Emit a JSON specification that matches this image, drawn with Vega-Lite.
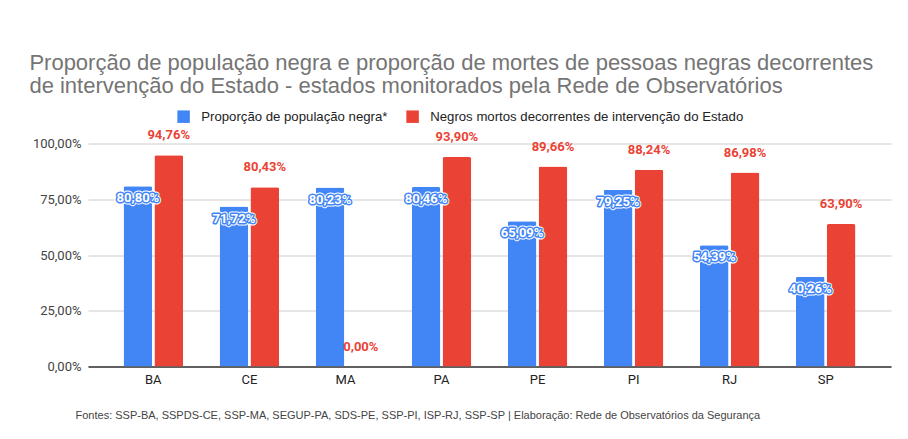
{
  "$schema": "https://vega.github.io/schema/vega-lite/v6.json",
  "autosize": {"type": "none"},
  "width": 803,
  "height": 223,
  "padding": {"left": 88, "top": 143.5, "right": 17, "bottom": 72.5},
  "title": {
    "text": ["Proporção de população negra e proporção de mortes de pessoas negras decorrentes", "de intervenção do Estado - estados monitorados pela Rede de Observatórios"],
    "anchor": "start",
    "dx": -3,
    "font": "Liberation Sans",
    "fontSize": 22,
    "fontWeight": "normal",
    "color": "#757575",
    "lineHeight": 23,
    "baseline": "top",
    "offset": 0,
    "dy": -12
  },
  "data": {
    "values": [
      {"estado": "BA", "serie": "Proporção de população negra*", "valor": 0.8080},
      {"estado": "BA", "serie": "Negros mortos decorrentes de intervenção do Estado", "valor": 0.9476},
      {"estado": "CE", "serie": "Proporção de população negra*", "valor": 0.7172},
      {"estado": "CE", "serie": "Negros mortos decorrentes de intervenção do Estado", "valor": 0.8043},
      {"estado": "MA", "serie": "Proporção de população negra*", "valor": 0.8023},
      {"estado": "MA", "serie": "Negros mortos decorrentes de intervenção do Estado", "valor": 0.0},
      {"estado": "PA", "serie": "Proporção de população negra*", "valor": 0.8046},
      {"estado": "PA", "serie": "Negros mortos decorrentes de intervenção do Estado", "valor": 0.9390},
      {"estado": "PE", "serie": "Proporção de população negra*", "valor": 0.6509},
      {"estado": "PE", "serie": "Negros mortos decorrentes de intervenção do Estado", "valor": 0.8966},
      {"estado": "PI", "serie": "Proporção de população negra*", "valor": 0.7925},
      {"estado": "PI", "serie": "Negros mortos decorrentes de intervenção do Estado", "valor": 0.8824},
      {"estado": "RJ", "serie": "Proporção de população negra*", "valor": 0.5439},
      {"estado": "RJ", "serie": "Negros mortos decorrentes de intervenção do Estado", "valor": 0.8698},
      {"estado": "SP", "serie": "Proporção de população negra*", "valor": 0.4026},
      {"estado": "SP", "serie": "Negros mortos decorrentes de intervenção do Estado", "valor": 0.6390}
    ]
  },
  "encoding": {
    "x": {
      "field": "estado", "type": "nominal", "sort": null,
      "scale": {"paddingInner": 0.38, "paddingOuter": 0.37},
      "axis": {
        "title": "Fontes: SSP-BA, SSPDS-CE, SSP-MA, SEGUP-PA, SDS-PE, SSP-PI, ISP-RJ, SSP-SP | Elaboração: Rede de Observatórios da Segurança",
        "titleAnchor": "start", "titleAlign": "left", "titleX": -13, "titleY": 49, "titleBaseline": "middle",
        "titleFont": "Liberation Sans", "titleFontSize": 11, "titleFontWeight": "normal", "titleColor": "#444444",
        "labelAngle": 0, "labelFontSize": 13, "labelColor": "#222222", "labelPadding": 7,
        "ticks": false, "domainColor": "#333333", "domainWidth": 1.5, "grid": false
      }
    },
    "xOffset": {
      "field": "serie", "type": "nominal",
      "sort": ["Proporção de população negra*", "Negros mortos decorrentes de intervenção do Estado"],
      "scale": {"paddingInner": 0.07}
    },
    "y": {
      "field": "valor", "type": "quantitative",
      "scale": {"domain": [0, 1], "nice": false},
      "axis": {
        "values": [0, 0.25, 0.5, 0.75, 1], "format": ".2%", "title": null,
        "domain": false, "ticks": false, "gridColor": "#cccccc",
        "labelFontSize": 13, "labelColor": "#444444", "labelPadding": 7
      }
    }
  },
  "layer": [
    {
      "mark": {"type": "bar", "cornerRadiusTopLeft": 2, "cornerRadiusTopRight": 2},
      "encoding": {
        "color": {
          "field": "serie", "type": "nominal",
          "scale": {"domain": ["Proporção de população negra*", "Negros mortos decorrentes de intervenção do Estado"], "range": ["#4285F4", "#EA4335"]},
          "legend": {
            "title": null, "orient": "none", "direction": "horizontal",
            "legendX": 89, "legendY": -33.5,
            "symbolType": "square", "symbolSize": 156, "symbolStrokeWidth": 0,
            "labelFont": "Liberation Sans", "labelFontSize": 13.2, "labelColor": "#222222", "labelOffset": 11,
            "columnPadding": 18, "labelLimit": 400
          }
        }
      }
    },
    {
      "transform": [{"filter": "datum.serie === 'Proporção de população negra*'"}],
      "mark": {"type": "text", "baseline": "middle", "dy": 12, "fontSize": 13, "fontWeight": "bold", "stroke": "#ffffff", "strokeWidth": 5, "fill": "#ffffff", "strokeJoin": "round"},
      "encoding": {"text": {"field": "valor", "type": "quantitative", "format": ".2%"}}
    },
    {
      "transform": [{"filter": "datum.serie === 'Proporção de população negra*'"}],
      "mark": {"type": "text", "baseline": "middle", "dy": 12, "fontSize": 13, "fontWeight": "bold", "stroke": "#4285F4", "strokeWidth": 3, "fill": "#4285F4", "strokeJoin": "round"},
      "encoding": {"text": {"field": "valor", "type": "quantitative", "format": ".2%"}}
    },
    {
      "transform": [{"filter": "datum.serie === 'Proporção de população negra*'"}],
      "mark": {"type": "text", "baseline": "middle", "dy": 12, "fontSize": 13, "fontWeight": "bold", "fill": "#ffffff"},
      "encoding": {"text": {"field": "valor", "type": "quantitative", "format": ".2%"}}
    },
    {
      "transform": [{"filter": "datum.serie !== 'Proporção de população negra*'"}],
      "mark": {"type": "text", "baseline": "middle", "dy": -20, "fontSize": 13, "fontWeight": "bold", "fill": "#EA4335"},
      "encoding": {"text": {"field": "valor", "type": "quantitative", "format": ".2%"}}
    }
  ],
  "config": {
    "font": "Roboto",
    "view": {"stroke": null},
    "locale": {"number": {"decimal": ",", "thousands": ".", "grouping": [3], "currency": ["R$", ""]}}
  }
}
